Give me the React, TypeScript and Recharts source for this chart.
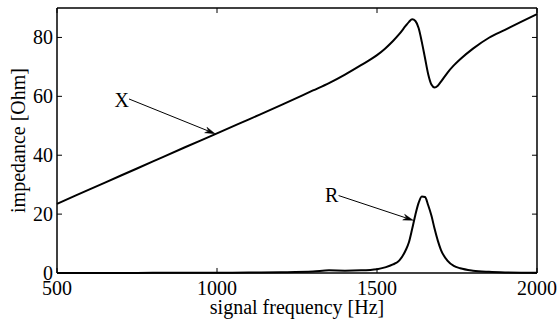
import { LineChart, Line, XAxis, YAxis, ReferenceLine, ReferenceDot } from 'recharts';

const freq = [500, 600, 700, 800, 900, 1000, 1100, 1200, 1300, 1350, 1400, 1450, 1500, 1525, 1550, 1570, 1590, 1600, 1610, 1620, 1630, 1640, 1650, 1660, 1670, 1680, 1690, 1700, 1720, 1740, 1760, 1800, 1850, 1900, 1950, 2000];
const reactance = [23.5, 28.3, 33.1, 37.9, 42.7, 47.4, 52.2, 57.0, 62.0, 64.5, 67.4, 70.6, 74.0, 76.2, 78.8, 81.2, 84.0, 85.3, 86.2, 85.6, 83.2, 78.5, 73.0, 67.5, 64.0, 63.0, 63.6, 65.0, 68.0, 70.5, 72.6, 76.2, 79.9, 82.6, 85.3, 87.9];
const resistance = [0, 0, 0, 0.05, 0.05, 0.1, 0.15, 0.25, 0.5, 0.9, 0.8, 0.9, 1.3, 1.9, 2.9, 4.3, 7.8, 10.5, 15.0, 19.8, 23.8, 26.0, 25.8, 23.0, 19.5, 15.0, 11.0, 7.8, 4.2, 2.4, 1.6, 0.8, 0.4, 0.2, 0.1, 0.05];

const xTicks = [500, 1000, 1500, 2000];
const yTicks = [0, 20, 40, 60, 80];
const xDomain = [500, 2000];
const yDomain = [0, 90];

const data = freq.map((f, i) => ({ f, X: reactance[i], R: resistance[i] }));

const font = '"Liberation Serif", "Times New Roman", serif';
const fs = 20;

function Arrow(props: any) {
  const { x1, y1, x2, y2 } = props;
  const dx = x2 - x1;
  const dy = y2 - y1;
  const len = Math.sqrt(dx * dx + dy * dy);
  const ux = dx / len;
  const uy = dy / len;
  const hl = 10;
  const hw = 3;
  const bx = x2 - ux * hl;
  const by = y2 - uy * hl;
  const nx = x2 - ux * hl * 0.7;
  const ny = y2 - uy * hl * 0.7;
  const pts = `${x2},${y2} ${bx - uy * hw},${by + ux * hw} ${nx},${ny} ${bx + uy * hw},${by - ux * hw}`;
  return (
    <g>
      <line x1={x1} y1={y1} x2={nx} y2={ny} stroke="#000" strokeWidth={1} />
      <polygon points={pts} fill="#000" stroke="#000" strokeWidth={0.5} />
    </g>
  );
}

// plain line between the segment ends
function Edge(props: any) {
  const { x1, y1, x2, y2 } = props;
  return <line x1={x1} y1={y1} x2={x2} y2={y2} stroke="#000" strokeWidth={1.5} />;
}

// short inward tick mark starting at the segment's first point
function makeTick(dx: number, dy: number) {
  return function TickMark(props: any) {
    const { x1, y1 } = props;
    return <line x1={x1} y1={y1} x2={x1 + dx} y2={y1 + dy} stroke="#000" strokeWidth={1} />;
  };
}

const tickUp = makeTick(0, -5);
const tickDown = makeTick(0, 5);
const tickRight = makeTick(5, 0);
const tickLeft = makeTick(-5, 0);

const textLabel = (txt: string) => (p: any) => (
  <text x={p.cx} y={p.cy} textAnchor="middle" dominantBaseline="central" fontFamily={font} fontSize={fs} fill="#000">
    {txt}
  </text>
);

const XTick = (p: any) => (
  <text x={p.x} y={288} textAnchor="middle" dominantBaseline="central" fontFamily={font} fontSize={fs} fill="#000">
    {p.payload.value}
  </text>
);

const YTick = (p: any) => (
  <text x={53} y={p.y} textAnchor="end" dominantBaseline="central" fontFamily={font} fontSize={fs} fill="#000">
    {p.payload.value}
  </text>
);

export default function App() {
  // keep frame marks a hair inside the domain so they are never discarded
  const eps = 0.01;
  const x0 = xDomain[0] + eps;
  const x1 = xDomain[1] - eps;
  const y0 = yDomain[0] + eps;
  const y1 = yDomain[1] - eps;
  const cx = (t: number) => Math.min(Math.max(t, x0), x1);
  const cy = (t: number) => Math.min(Math.max(t, y0), y1);
  return (
    <div style={{ position: 'absolute', left: 0, top: 0, background: '#fff' }}>
      <LineChart width={558} height={320} data={data} margin={{ top: 8, right: 21, bottom: 0, left: 0 }}>
        <XAxis
          dataKey="f"
          type="number"
          domain={xDomain}
          ticks={xTicks}
          height={47}
          tickLine={false}
          tick={XTick}
          axisLine={{ stroke: '#000', strokeWidth: 1.5 }}
          label={{
            content: (p: any) => (
              <text x={p.viewBox.x + p.viewBox.width / 2} y={307} textAnchor="middle" dominantBaseline="central" fontFamily={font} fontSize={fs} fill="#000">
                signal frequency [Hz]
              </text>
            ),
          }}
        />
        <YAxis
          type="number"
          domain={yDomain}
          ticks={yTicks}
          width={57}
          tickLine={false}
          tick={YTick}
          axisLine={{ stroke: '#000', strokeWidth: 1.5 }}
          label={{
            content: (p: any) => {
              const c = p.viewBox.y + p.viewBox.height / 2;
              return (
                <text x={18} y={c} transform={`rotate(-90, 18, ${c})`} textAnchor="middle" dominantBaseline="central" fontFamily={font} fontSize={fs} fill="#000">
                  impedance [Ohm]
                </text>
              );
            },
          }}
        />
        <Line type="monotone" dataKey="X" stroke="#000" strokeWidth={2} dot={false} isAnimationActive={false} />
        <Line type="monotone" dataKey="R" stroke="#000" strokeWidth={2} dot={false} isAnimationActive={false} />
        <ReferenceLine segment={[{ x: x0, y: y1 }, { x: x1, y: y1 }]} shape={Edge} />
        <ReferenceLine segment={[{ x: x1, y: y0 }, { x: x1, y: y1 }]} shape={Edge} />
        {xTicks.map((t) => (
          <ReferenceLine key={'b' + t} segment={[{ x: cx(t), y: y0 }, { x: cx(t), y: 1 }]} shape={tickUp} />
        ))}
        {xTicks.map((t) => (
          <ReferenceLine key={'t' + t} segment={[{ x: cx(t), y: y1 }, { x: cx(t), y: 89 }]} shape={tickDown} />
        ))}
        {yTicks.map((t) => (
          <ReferenceLine key={'l' + t} segment={[{ x: x0, y: cy(t) }, { x: 510, y: cy(t) }]} shape={tickRight} />
        ))}
        {yTicks.map((t) => (
          <ReferenceLine key={'r' + t} segment={[{ x: x1, y: cy(t) }, { x: 1990, y: cy(t) }]} shape={tickLeft} />
        ))}
        <ReferenceLine segment={[{ x: 725, y: 59.1 }, { x: 994, y: 47.3 }]} shape={Arrow} />
        <ReferenceLine segment={[{ x: 1380, y: 26.3 }, { x: 1613, y: 17.9 }]} shape={Arrow} />
        <ReferenceDot x={702} y={58.6} r={0} shape={textLabel('X')} />
        <ReferenceDot x={1358} y={26.4} r={0} shape={textLabel('R')} />
      </LineChart>
    </div>
  );
}
